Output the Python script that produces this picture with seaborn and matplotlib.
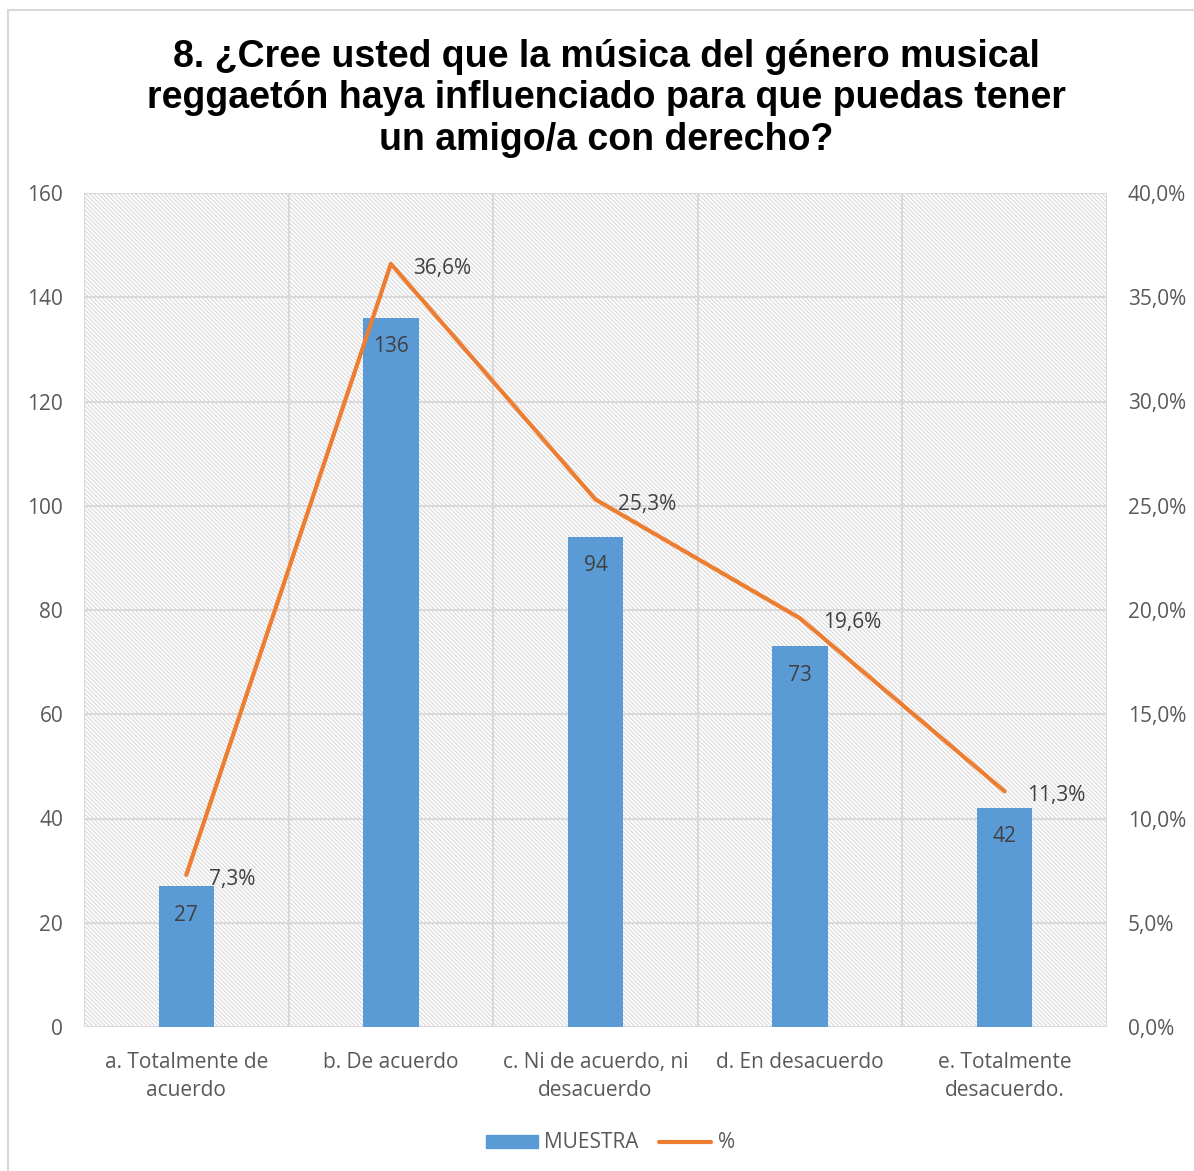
import numpy as np
import matplotlib
matplotlib.use('Agg')
import matplotlib.pyplot as plt
from matplotlib.patches import Rectangle
from matplotlib.ticker import FuncFormatter
import seaborn as sns

sns.set_style('white')
plt.rcParams['font.family'] = ['Open Sans', 'DejaVu Sans']
plt.rcParams['hatch.color'] = '#D9D9D9'
plt.rcParams['hatch.linewidth'] = 0.8

categorias = ['a. Totalmente de\nacuerdo', 'b. De acuerdo', 'c. Ni de acuerdo, ni\ndesacuerdo',
              'd. En desacuerdo', 'e. Totalmente\ndesacuerdo.']
muestra = [27, 136, 94, 73, 42]
porcentaje = [7.3, 36.6, 25.3, 19.6, 11.3]
titulo = '8. ¿Cree usted que la música del género musical\nreggaetón haya influenciado para que puedas tener\nun amigo/a con derecho?'

azul = '#5B9BD5'
naranja = '#ED7D31'
gris = '#595959'
grid = '#D9D9D9'

fig = plt.figure(figsize=(11.94, 11.71), dpi=100)
ax = fig.add_axes([84 / 1194, 1 - 1027 / 1171, (1107 - 84) / 1194, (1027 - 193) / 1171])

# hatched plot background
ax.patch.set_facecolor('white')
ax.add_patch(Rectangle((0, 0), 1, 1, transform=ax.transAxes, facecolor='none',
                       edgecolor=grid, hatch='\\' * 8, linewidth=0, zorder=0))

x = np.arange(len(categorias))
sns.barplot(x=x, y=muestra, color=azul, width=0.27, saturation=1, linewidth=0, ax=ax, zorder=3)
ax.set_xlim(-0.5, len(categorias) - 0.5)
ax.set_ylim(0, 160)
ax.set_yticks(range(0, 161, 20))
ax.yaxis.grid(True, color=grid, linewidth=1.5, zorder=1)
for v in np.arange(-0.5, len(categorias), 1):
    ax.axvline(v, color=grid, linewidth=1.5, zorder=1)
ax.set_axisbelow(True)
for s in ax.spines.values():
    s.set_visible(False)
ax.set_xticks(x)
ax.set_xticklabels(categorias, fontsize=15, color=gris, linespacing=1.45)
ax.tick_params(axis='both', length=0, labelsize=15, labelcolor=gris, pad=15)
ax.tick_params(axis='x', pad=18)

for i, v in enumerate(muestra):
    ax.text(i, v - 3.5, str(v), ha='center', va='top', fontsize=15, color='#404040', zorder=5)

ax2 = ax.twinx()
ax2.plot(x, porcentaje, color=naranja, linewidth=3, zorder=4)
ax2.set_ylim(0, 40)
ax2.set_yticks(range(0, 41, 5))
ax2.yaxis.set_major_formatter(FuncFormatter(lambda v, p: f'{v:.1f}%'.replace('.', ',')))
ax2.tick_params(axis='y', length=0, labelsize=15, labelcolor=gris, pad=15)
for s in ax2.spines.values():
    s.set_visible(False)
for i, v in enumerate(porcentaje):
    ax2.text(i + 0.11, v - 0.22, f'{v:.1f}%'.replace('.', ','), ha='left', va='center',
             fontsize=15, color='#404040', zorder=5)

fig.text(0.508, 0.967, titulo, ha='center', va='top', fontsize=27, fontweight='bold',
         color='black', family=['Liberation Sans', 'DejaVu Sans'], linespacing=1.2)

handles = [Rectangle((0, 0), 1, 1, color=azul),
           plt.Line2D([0], [0], color=naranja, linewidth=3, solid_capstyle='round')]
fig.legend(handles, ['MUESTRA', '%'], loc='center', bbox_to_anchor=(0.511, 1 - 1143 / 1171),
           ncol=2, frameon=False, fontsize=15, labelcolor=gris, handlelength=2.5,
           handleheight=0.6, columnspacing=1.0, handletextpad=0.3)

fig.patches.append(Rectangle((8 / 1194, -0.01), 1.0, 1 - 10 / 1171 + 0.01,
                             transform=fig.transFigure, fill=False, edgecolor=grid, linewidth=1.5))

fig.savefig('out.png', dpi=100)
